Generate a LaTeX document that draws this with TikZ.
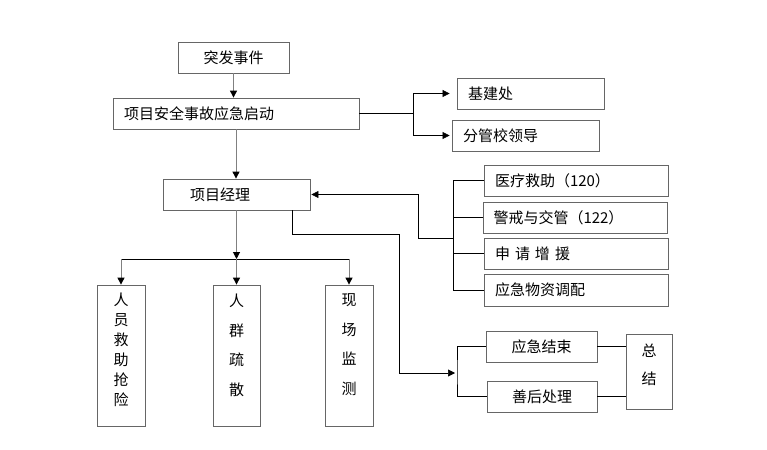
\documentclass[tikz,border=0pt]{standalone}
\usepackage{fontspec}
\newfontfamily\cjk{Noto Sans CJK SC}
\usetikzlibrary{arrows.meta}
% upright text for the narrow boxes
\newcommand{\vtext}[5]{\parbox[c][#1][t]{#2}{\centering\fontsize{15}{#3}\selectfont\vspace*{#4}#5}}

\begin{document}
\begin{tikzpicture}[x=1pt,y=-1pt,
    font=\cjk\fontsize{15}{18}\selectfont,
    box/.style={draw=black!60,line width=0.8pt,inner sep=0pt,minimum height=31pt},
    lbox/.style={box,align=left},
    arr/.style={-{Triangle[length=7pt,width=7pt,color=black]}},
    gline/.style={black!50,line width=1pt},
    bline/.style={black,line width=0.6pt}]
    \useasboundingbox (0,0) rectangle (767,449);

    \node[box,minimum width=111pt] (tufa) at (233.5,57.5) {突发事件};
    \node[lbox,minimum width=246pt,text width=224pt] (qidong) at (236,113.5) {项目安全事故应急启动};
    \node[lbox,minimum width=147pt,text width=125pt] (jijian) at (530.5,93.5) {基建处};
    \node[lbox,minimum width=147pt,text width=125pt] (fenguan) at (525.5,135.5) {分管校领导};
    \node[lbox,minimum width=147pt,text width=93pt] (jingli) at (236.5,194.5) {项目经理};

    \node[lbox,minimum width=184pt,text width=162pt] (yiliao) at (576,180.5) {医疗救助（120）};
    \node[lbox,minimum width=184pt,text width=164pt] (jingjie) at (575.5,217.5) {警戒与交管（122）};
    \node[lbox,minimum width=184pt,text width=162pt] (shenqing) at (576,253.5)
        {申\hspace{5pt}请\hspace{5pt}增\hspace{5pt}援};
    \node[lbox,minimum width=184pt,text width=162pt,minimum height=32pt] (wuzi) at (576,290) {应急物资调配};

    \node[box] (renyuan) at (121,355.5) {\vtext{141pt}{48pt}{20pt}{8pt}{人\\员\\救\\助\\抢\\险}};
    \node[box] (renqun) at (236.5,355.5) {\vtext{141pt}{47pt}{29.5pt}{9pt}{人\\群\\疏\\散}};
    \node[box] (xianchang) at (349,355.5) {\vtext{141pt}{48pt}{29.5pt}{9pt}{现\\场\\监\\测}};

    \node[box,minimum width=111pt] (jieshu) at (541.5,346.5) {应急结束};
    \node[box,minimum width=110pt] (shanhou) at (542,396.5) {善后处理};
    \node[box] (zongjie) at (649,371.5) {\vtext{75pt}{46pt}{28pt}{10pt}{总\\结}};

    \coordinate (split) at (413,113.5);
    \coordinate (bus) at (236.5,259);
    \coordinate (rbus) at (453,238);
    \coordinate (turn) at (399,234);
    \coordinate (join) at (457,373);

    % main line
    \draw[gline,arr] (tufa.south) -- (tufa.south |- qidong.north);
    \draw[gline,arr] (qidong.south) -- (qidong.south |- jingli.north);
    \draw[bline] (qidong.east) -- (split);
    \draw[bline,arr] (split) |- ([xshift=-7pt]jijian.west);
    \draw[bline,arr] (split) |- ([xshift=-2pt]fenguan.west);

    % under the manager
    \draw[gline,arr] (jingli.south) -- (bus);
    \draw[bline] (bus -| renyuan) -- (bus -| xianchang);
    \draw[gline,arr] (bus -| renyuan) -- (renyuan.north);
    \draw[gline,arr] (bus) -- (renqun.north);
    \draw[gline,arr] (bus -| xianchang) -- (xianchang.north);

    % support on the right
    \draw[bline] (yiliao.west) -- (yiliao.west -| rbus) |- (wuzi.west);
    \draw[bline] (jingjie.west) -- (jingjie.west -| rbus);
    \draw[bline] (shenqing.west) -- (shenqing.west -| rbus);
    \draw[bline,arr] (rbus) -- (418,238) |- ([xshift=1pt]jingli.east);

    % ending
    \draw[bline,arr] ([xshift=-18pt]jingli.south east) |- (turn) |- ([xshift=-2pt]join);
    \draw[bline] (jieshu.west) -| (join) |- (shanhou.west);
    \draw[bline] (jieshu.east) -- (jieshu.east -| zongjie.west);
    \draw[bline] (shanhou.east) -- (shanhou.east -| zongjie.west);
\end{tikzpicture}
\end{document}
